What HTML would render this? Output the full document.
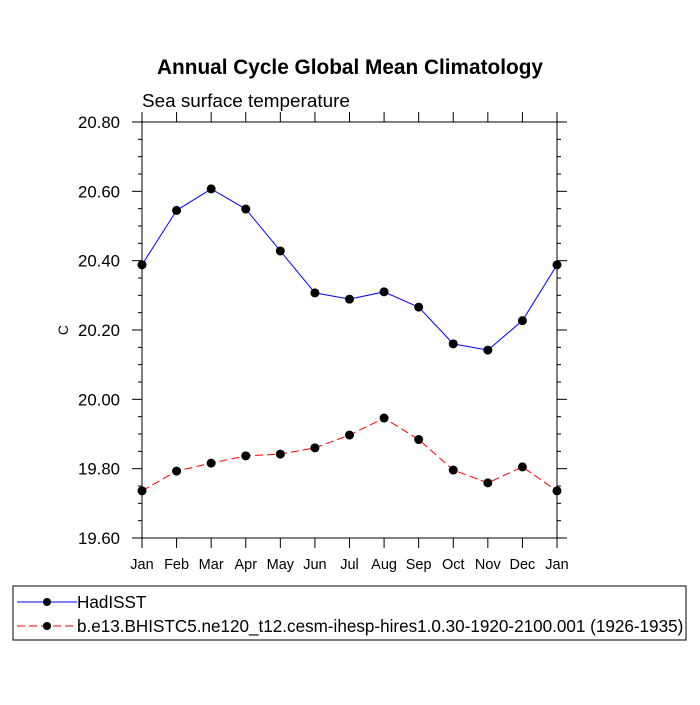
<!DOCTYPE html>
<html><head><meta charset="utf-8"><style>
html,body{margin:0;padding:0;background:#fff;}
svg text{font-family:"Liberation Sans",sans-serif;}
</style></head><body>
<svg id="chart" width="700" height="700">
<text x="350" y="74" font-size="20.8" font-weight="bold" text-anchor="middle">Annual Cycle Global Mean Climatology</text>
<text x="142" y="107" font-size="18.9">Sea surface temperature</text>
<text x="0" y="0" font-size="14" text-anchor="middle" transform="translate(68,330) rotate(-90)">C</text>
<g id="axes"></g>
<g id="series"></g>
<rect x="13" y="586" width="673" height="54" fill="none" stroke="#000" stroke-width="1"/>
<g>
<line x1="17" y1="602" x2="77" y2="602" stroke="#0000ff" stroke-width="1"/>
<circle cx="47" cy="602" r="4" fill="#000"/>
<text x="77" y="608" font-size="17.1">HadISST</text>
</g>
<g>
<line x1="17" y1="626" x2="77" y2="626" stroke="#ff0000" stroke-width="1" stroke-dasharray="8,4"/>
<circle cx="47" cy="626" r="4" fill="#000"/>
<text x="77" y="632" font-size="17.1">b.e13.BHISTC5.ne120_t12.cesm-ihesp-hires1.0.30-1920-2100.001 (1926-1935)</text>
</g>
</svg>
<script>
const months=["Jan","Feb","Mar","Apr","May","Jun","Jul","Aug","Sep","Oct","Nov","Dec","Jan"];
const hadisst=[20.388,20.545,20.607,20.549,20.428,20.307,20.289,20.310,20.266,20.160,20.142,20.227,20.388];
const model=[19.736,19.793,19.816,19.837,19.842,19.860,19.897,19.946,19.884,19.796,19.759,19.805,19.736];
const yTicks=[19.6,19.8,20.0,20.2,20.4,20.6,20.8];
const yTickLabels=["19.60","19.80","20.00","20.20","20.40","20.60","20.80"];
const L=142,R=557,T=122,B=538,yMin=19.6,yMax=20.8;
const NS="http://www.w3.org/2000/svg";
function X(i){return L+(R-L)*i/(months.length-1);}
function Y(v){return B-(v-yMin)/(yMax-yMin)*(B-T);}
function mk(tag,attrs,parent){const e=document.createElementNS(NS,tag);for(const k in attrs)e.setAttribute(k,attrs[k]);parent.appendChild(e);return e;}
const ax=document.getElementById('axes');
const frame=mk('rect',{x:L,y:T,width:R-L,height:B-T,fill:'none',stroke:'#000','stroke-width':1},ax);


for(let v=yMin;v<=yMax+1e-9;v+=0.05){
  const y=Y(v);const major=Math.abs((v-yMin)/0.2-Math.round((v-yMin)/0.2))<1e-6;const len=major?10:4;
  mk('line',{x1:L-len,y1:y,x2:L,y2:y,stroke:'#000','stroke-width':1},ax);
  mk('line',{x1:R,y1:y,x2:R+len,y2:y,stroke:'#000','stroke-width':1},ax);
}
yTicks.forEach((v,i)=>{
  const t=mk('text',{x:L-22,y:Y(v)+6,'font-size':16.8,'text-anchor':'end'},ax);
  t.textContent=yTickLabels[i];
  
  
});
months.forEach((m,i)=>{
  const x=X(i);
  mk('line',{x1:x,y1:B,x2:x,y2:B+10,stroke:'#000','stroke-width':1},ax);
  mk('line',{x1:x,y1:T-10,x2:x,y2:T,stroke:'#000','stroke-width':1},ax);
  const t=mk('text',{x:x,y:B+31,'font-size':14.5,'text-anchor':'middle'},ax);
  t.textContent=m;
  
  
});
const sg=document.getElementById('series');
function draw(vals,color,dash,name){
  const g=mk('g',{},sg);
  
  
  const pl=mk('polyline',{points:vals.map((v,i)=>X(i)+','+Y(v)).join(' '),fill:'none',stroke:color,'stroke-width':1},g);
  if(dash)pl.setAttribute('stroke-dasharray',dash);
  vals.forEach((v,i)=>{
    const c=mk('circle',{cx:X(i),cy:Y(v),r:4.5,fill:'#000'},g);
    
    
  });
}
draw(hadisst,'#0000ff',null,'series-hadisst');
draw(model,'#ff0000','8,4','series-model');
</script>
</body></html>
